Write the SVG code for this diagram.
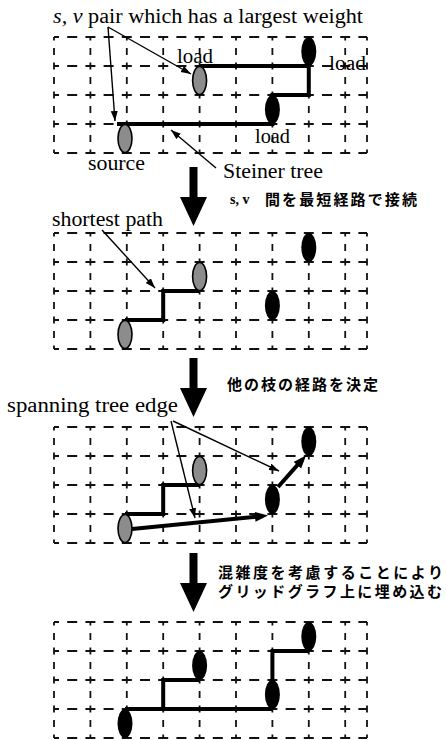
<svg xmlns="http://www.w3.org/2000/svg" xmlns:xlink="http://www.w3.org/1999/xlink" width="446" height="740" viewBox="0 0 446 740">
  <style>
    .gh { stroke: #111; stroke-width: 1.8; stroke-dasharray: 10 8.2; stroke-dashoffset: 5; fill: none; }
    .gv { stroke: #111; stroke-width: 1.8; stroke-dasharray: 7 7.5; stroke-dashoffset: 3.5; fill: none; }
    .route { stroke: #000; stroke-width: 4; fill: none; stroke-linejoin: miter; }
    .thin { stroke: #000; stroke-width: 1.4; fill: none; marker-end: url(#headThin); }
    .thick { stroke: #000; stroke-width: 4; fill: none; marker-end: url(#headThick); }
    .pin { fill: #000; }
    .src { fill: #8c8c8c; stroke: #000; stroke-width: 1.6; }
    .lbl { font-size: 20px; fill: #000; }
    .jp { font-size: 15px; font-weight: bold; fill: #000; }
    .jps { font-size: 14px; font-weight: bold; fill: #000; }
  </style>
  <defs>
    <marker id="headThin" markerUnits="userSpaceOnUse" markerWidth="11" markerHeight="8" refX="10" refY="3.5" orient="auto">
      <path d="M0,0 L10,3.5 L0,7 Z" fill="#000"/>
    </marker>
    <marker id="headThick" markerUnits="userSpaceOnUse" markerWidth="14" markerHeight="11" refX="8" refY="5" orient="auto">
      <path d="M0,0 L13,5 L0,10 Z" fill="#000"/>
    </marker>
    <!-- dashed grid graph, 9 x 4 cells, drawn from y = 0 -->
    <g id="grid">
      <path class="gh" d="M54,0 H367 M54,29 H367 M54,58 H367 M54,87 H367 M54,116 H367"/>
      <path class="gv" d="M54,0 V116 M90.4,0 V116 M126.8,0 V116 M163.2,0 V116 M199.6,0 V116 M236,0 V116 M272.4,0 V116 M308.8,0 V116 M345.2,0 V116 M367,0 V116"/>
    </g>
    <!-- block arrow between steps -->
    <path id="step" d="M-4,0 H4 V30 H13.5 L0,59 L-13.5,30 H-4 Z" fill="#000"/>
  </defs>

  <!-- step 1: Steiner tree -->
  <g id="panel1" font-family="'Liberation Serif', 'DejaVu Serif', serif">
    <use xlink:href="#grid" href="#grid" transform="translate(0,37)"/>
    <path class="route" d="M117,124 H272.4 V95 H308.8 V66 H199.6"/>
    <g id="p1-source"><ellipse class="src" cx="125" cy="138.5" rx="7" ry="14"/></g>
    <g id="p1-load-a"><ellipse class="src" cx="199.6" cy="80.5" rx="7" ry="14"/></g>
    <g id="p1-load-b"><ellipse class="pin" cx="272.4" cy="109.5" rx="7.5" ry="14.5"/></g>
    <g id="p1-load-c"><ellipse class="pin" cx="308.8" cy="51.5" rx="7.5" ry="14.5"/></g>
    <text class="lbl" x="53" y="22.5" textLength="310" lengthAdjust="spacingAndGlyphs"><tspan font-style="italic">s, v</tspan> pair which has a largest weight</text>
    <text class="lbl" x="177" y="63" textLength="36" lengthAdjust="spacingAndGlyphs">load</text>
    <text class="lbl" x="329" y="70" textLength="37" lengthAdjust="spacingAndGlyphs">load</text>
    <text class="lbl" x="255" y="143" textLength="35" lengthAdjust="spacingAndGlyphs">load</text>
    <text class="lbl" x="88" y="170" textLength="57" lengthAdjust="spacingAndGlyphs">source</text>
    <text class="lbl" x="223" y="178" textLength="100" lengthAdjust="spacingAndGlyphs">Steiner tree</text>
  </g>

  <!-- step 2: shortest path between s and v -->
  <g id="panel2" font-family="'Liberation Serif', 'DejaVu Serif', serif">
    <use xlink:href="#grid" href="#grid" transform="translate(0,233)"/>
    <path class="route" d="M125,320 H163.2 V291 H199.6"/>
    <g id="p2-source"><ellipse class="src" cx="125" cy="334.5" rx="7" ry="14"/></g>
    <g id="p2-load-a"><ellipse class="src" cx="199.6" cy="276.5" rx="7" ry="14"/></g>
    <g id="p2-load-b"><ellipse class="pin" cx="272.4" cy="305.5" rx="7.5" ry="14.5"/></g>
    <g id="p2-load-c"><ellipse class="pin" cx="308.8" cy="247.5" rx="7.5" ry="14.5"/></g>
    <text class="lbl" x="52" y="226" textLength="111" lengthAdjust="spacingAndGlyphs">shortest path</text>
  </g>

  <!-- step 3: spanning tree edges -->
  <g id="panel3" font-family="'Liberation Serif', 'DejaVu Serif', serif">
    <use xlink:href="#grid" href="#grid" transform="translate(0,427)"/>
    <path class="route" d="M125,514 H163.2 V485 H199.6"/>
    <g id="p3-source"><ellipse class="src" cx="125" cy="528.5" rx="7" ry="14"/></g>
    <g id="p3-load-a"><ellipse class="src" cx="199.6" cy="470.5" rx="7" ry="14"/></g>
    <g id="p3-load-b"><ellipse class="pin" cx="272.4" cy="499.5" rx="7.5" ry="14.5"/></g>
    <g id="p3-load-c"><ellipse class="pin" cx="308.8" cy="441.5" rx="7.5" ry="14.5"/></g>
    <text class="lbl" x="7" y="412" textLength="171" lengthAdjust="spacingAndGlyphs">spanning tree edge</text>
  </g>

  <!-- step 4: embedded on the grid graph -->
  <g id="panel4">
    <use xlink:href="#grid" href="#grid" transform="translate(0,622)"/>
    <path class="route" d="M125,709 H272.4 M163.2,709 V680 H199.6 M272.4,694 V651 H308.8"/>
    <g id="p4-source"><ellipse class="pin" cx="125" cy="723.5" rx="7.5" ry="14.5"/></g>
    <g id="p4-load-a"><ellipse class="pin" cx="199.6" cy="665.5" rx="7.5" ry="14.5"/></g>
    <g id="p4-load-b"><ellipse class="pin" cx="272.4" cy="694.5" rx="7.5" ry="14.5"/></g>
    <g id="p4-load-c"><ellipse class="pin" cx="308.8" cy="636.5" rx="7.5" ry="14.5"/></g>
  </g>

  <!-- connectors -->
  <g id="connectors">
    <line class="thin" x1="108" y1="27" x2="191" y2="74"/>
    <line class="thin" x1="108" y1="27" x2="115" y2="121"/>
    <line class="thin" x1="216" y1="168" x2="171" y2="130"/>
    <line class="thin" x1="102" y1="230" x2="155" y2="288"/>
    <line class="thin" x1="171" y1="421" x2="195" y2="518"/>
    <line class="thin" x1="173" y1="421" x2="279" y2="471"/>
    <line class="thick" x1="132" y1="529" x2="263" y2="516"/>
    <line class="thick" x1="278" y1="487" x2="302.7" y2="459.2"/>
    <use xlink:href="#step" href="#step" transform="translate(193.5,167)"/>
    <use xlink:href="#step" href="#step" transform="translate(193.5,358)"/>
    <use xlink:href="#step" href="#step" transform="translate(193.5,553)"/>
  </g>

  <!-- step captions -->
  <g id="captions" font-family="'Noto Sans CJK JP', sans-serif">
    <text class="jps" x="230" y="204" font-family="'Liberation Serif', serif">s, v</text>
    <text class="jp" x="265" y="205" textLength="152" lengthAdjust="spacing">間を最短経路で接続</text>
    <text class="jp" x="227" y="390" textLength="151" lengthAdjust="spacing">他の枝の経路を決定</text>
    <text class="jp" x="218" y="578" textLength="225" lengthAdjust="spacing">混雑度を考慮することにより</text>
    <text class="jp" x="218" y="597" textLength="224" lengthAdjust="spacing">グリッドグラフ上に埋め込む</text>
  </g>
</svg>
